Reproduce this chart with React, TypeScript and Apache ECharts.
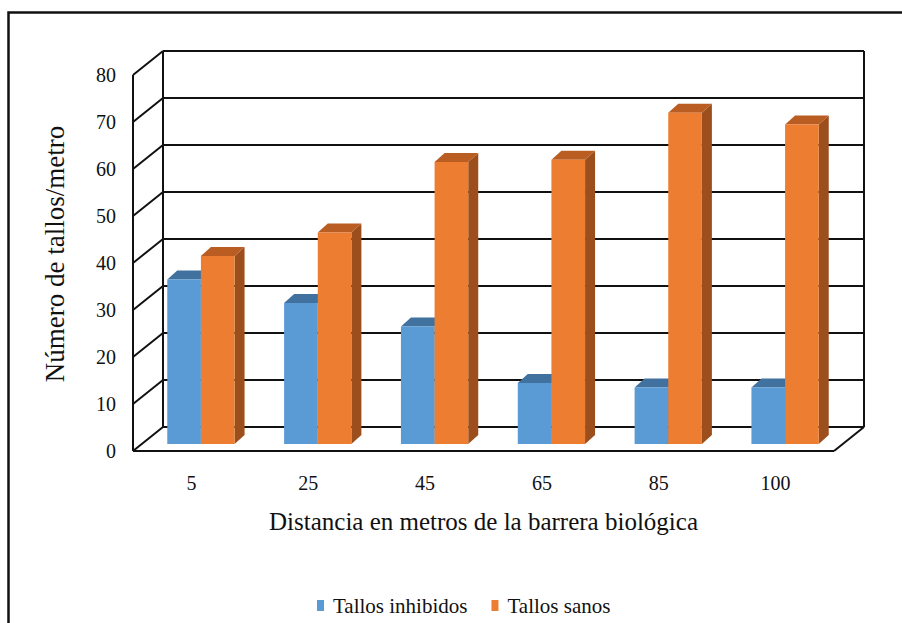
import React, { useEffect, useRef } from "react";
import * as echarts from "echarts";

// Distance from the biological barrier (m)
const distances = ["5", "25", "45", "65", "85", "100"];
// Stems per metre
const tallosInhibidos = [35, 30, 25, 13, 12, 12];
const tallosSanos = [40, 45, 60, 60.5, 70.5, 68];
const yTicks = [0, 10, 20, 30, 40, 50, 60, 70, 80];

const FONT = "Liberation Serif, Times New Roman, serif";

// oblique projection of the chart box (back wall offset) and bars
const WALL_DX = 30;
const WALL_DY = -24;
const BAR_OFF_X = 9.5;
const BAR_OFF_Y = -7;
const BAR_DX = 10;
const BAR_DY = -9;
const BAR_FRAC = 0.288;

const LINE = { stroke: "#111", lineWidth: 2 };

function makeBarRenderer(side: "left" | "right", front: string, top: string, sideColor: string) {
  return (params: any, api: any) => {
    const cat = api.value(0);
    const val = api.value(1);
    const pTop = api.coord([cat, val]);
    const pBase = api.coord([cat, 0]);
    const band = api.size([1, 0])[0];
    const w = band * BAR_FRAC;
    const cx = pTop[0] + BAR_OFF_X;
    const x = side === "left" ? cx - w : cx;
    const yT = pTop[1] + BAR_OFF_Y;
    const yB = pBase[1] + BAR_OFF_Y;
    return {
      type: "group",
      children: [
        {
          type: "polygon",
          shape: {
            points: [
              [x + w, yT],
              [x + w + BAR_DX, yT + BAR_DY],
              [x + w + BAR_DX, yB + BAR_DY],
              [x + w, yB],
            ],
          },
          style: { fill: sideColor },
        },
        {
          type: "polygon",
          shape: {
            points: [
              [x, yT],
              [x + BAR_DX, yT + BAR_DY],
              [x + w + BAR_DX, yT + BAR_DY],
              [x + w, yT],
            ],
          },
          style: { fill: top },
        },
        {
          type: "rect",
          shape: { x, y: yT, width: w, height: yB - yT },
          style: { fill: front },
        },
      ],
    };
  };
}

export default function App() {
  const ref = useRef<HTMLDivElement>(null);

  useEffect(() => {
    if (!ref.current) return;
    const chart = echarts.init(ref.current, null, { renderer: "svg" });

    const option: any = {
      animation: false,
      backgroundColor: "#fff",
      textStyle: { fontFamily: FONT },
      grid: { left: 133, top: 75, width: 701, height: 376, containLabel: false },
      legend: {
        left: 312,
        top: 590,
        itemWidth: 7,
        itemHeight: 11,
        itemGap: 24,
        icon: "rect",
        textStyle: { fontFamily: FONT, fontSize: 21, color: "#111", padding: [0, 0, 0, 4] },
        data: [
          { name: "Tallos inhibidos", itemStyle: { color: "#5B9BD5" } },
          { name: "Tallos sanos", itemStyle: { color: "#ED7D31" } },
        ],
      },
      xAxis: {
        type: "category",
        data: distances,
        axisLine: { show: false },
        axisTick: { show: false },
        axisLabel: { fontFamily: FONT, fontSize: 20, color: "#111", margin: 22 },
        name: "Distancia en metros de la barrera biológica",
        nameLocation: "middle",
        nameGap: 58,
        nameTextStyle: { fontFamily: FONT, fontSize: 25, color: "#111" },
      },
      yAxis: {
        type: "value",
        min: 0,
        max: 80,
        interval: 10,
        axisLine: { show: false },
        axisTick: { show: false },
        splitLine: { show: false },
        axisLabel: { fontFamily: FONT, fontSize: 20, color: "#111", margin: 17 },
      },
      graphic: [
        {
          type: "rect",
          shape: { x: 8.5, y: 12.5, width: 1000, height: 1000 },
          style: { fill: "none", stroke: "#111", lineWidth: 2.5 },
          silent: true,
        },
        {
          type: "text",
          x: 55,
          y: 254,
          rotation: Math.PI / 2,
          style: {
            text: "Número de tallos/metro",
            fontFamily: FONT,
            fontSize: 27,
            fill: "#111",
            align: "center",
            verticalAlign: "middle",
          },
        },
      ],
      series: [
        {
          // back wall and left side wall grid lines
          type: "custom",
          name: "grid",
          z: 1,
          silent: true,
          data: yTicks.map((v) => [0, v]),
          renderItem: (params: any, api: any) => {
            const cs = params.coordSys;
            const y = api.coord([0, api.value(1)])[1];
            return {
              type: "group",
              children: [
                {
                  type: "line",
                  shape: { x1: cs.x + WALL_DX, y1: y + WALL_DY, x2: cs.x + cs.width + WALL_DX, y2: y + WALL_DY },
                  style: LINE,
                },
                {
                  type: "line",
                  shape: { x1: cs.x, y1: y, x2: cs.x + WALL_DX, y2: y + WALL_DY },
                  style: LINE,
                },
              ],
            };
          },
        },
        {
          // box edges
          type: "custom",
          name: "frame",
          z: 1,
          silent: true,
          data: [[0, 0]],
          renderItem: (params: any, api: any) => {
            const cs = params.coordSys;
            const yTop = api.coord([0, 80])[1];
            const yBase = api.coord([0, 0])[1];
            const xL = cs.x;
            const xR = cs.x + cs.width;
            return {
              type: "group",
              children: [
                { type: "line", shape: { x1: xL, y1: yTop, x2: xL, y2: yBase }, style: LINE },
                { type: "line", shape: { x1: xL + WALL_DX, y1: yTop + WALL_DY, x2: xL + WALL_DX, y2: yBase + WALL_DY }, style: LINE },
                { type: "line", shape: { x1: xR + WALL_DX, y1: yTop + WALL_DY, x2: xR + WALL_DX, y2: yBase + WALL_DY }, style: LINE },
                { type: "line", shape: { x1: xL, y1: yBase, x2: xR, y2: yBase }, style: LINE },
                { type: "line", shape: { x1: xR, y1: yBase, x2: xR + WALL_DX, y2: yBase + WALL_DY }, style: LINE },
              ],
            };
          },
        },
        {
          type: "custom",
          name: "Tallos inhibidos",
          z: 3,
          itemStyle: { color: "#5B9BD5" },
          data: tallosInhibidos.map((v, i) => [i, v]),
          renderItem: makeBarRenderer("left", "#5B9BD5", "#41729F", "#3A6590"),
        },
        {
          type: "custom",
          name: "Tallos sanos",
          z: 4,
          itemStyle: { color: "#ED7D31" },
          data: tallosSanos.map((v, i) => [i, v]),
          renderItem: makeBarRenderer("right", "#ED7D31", "#BA5D22", "#9C4E1D"),
        },
      ],
    };

    chart.setOption(option);
    return () => chart.dispose();
  }, []);

  return (
    <div
      ref={ref}
      style={{ position: "fixed", left: 0, top: 0, width: 902, height: 623, background: "#fff" }}
    />
  );
}
